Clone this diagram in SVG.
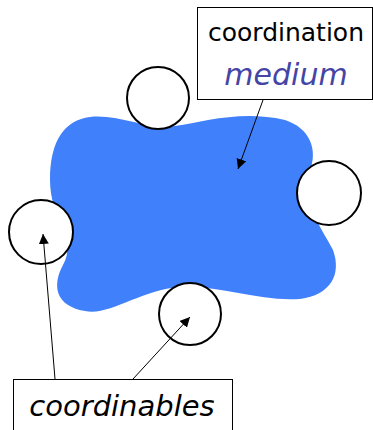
<svg xmlns="http://www.w3.org/2000/svg" width="373" height="430" viewBox="0 0 373 430">
<style>
.c{fill:#fff;stroke:#000;stroke-width:2}
.b{fill:#fff;stroke:#000;stroke-width:1}
.l{stroke:#000;stroke-width:1;fill:none}
.t{font-family:"DejaVu Sans","Noto Sans",sans-serif;fill:#000}
</style>
<defs>
<marker id="ah" viewBox="0 0 10 10" refX="10" refY="5" markerWidth="10" markerHeight="10" markerUnits="userSpaceOnUse" orient="auto">
<path d="M0,0 L10,5 L0,10 z" fill="#000"/>
</marker>
</defs>
<g id="medium-blob">
<path d="M90,117 C120,114 145,130 175,126 C205,122 240,110 285,120 C310,128 318,150 310,170 C300,200 320,225 333,250 C342,275 330,295 300,299 C260,302 220,285 180,287 C140,290 110,316 85,311 C55,306 52,285 63,265 C78,240 50,220 50,180 C50,140 65,120 90,117 Z" fill="#4080fb"/>
</g>
<g id="agent-top"><circle class="c" cx="158" cy="98" r="31"/></g>
<g id="agent-right"><circle class="c" cx="329" cy="193" r="32"/></g>
<g id="agent-left"><circle class="c" cx="41" cy="232" r="32"/></g>
<g id="agent-bottom"><circle class="c" cx="190" cy="314" r="31"/></g>
<g id="label-medium">
<rect class="b" x="197.5" y="7.5" width="175" height="92"/>
<text class="t" x="286" y="41" font-size="25" text-anchor="middle">coordination</text>
<text class="t" x="286" y="85" font-size="30" font-style="italic" text-anchor="middle" style="fill:#4545a5">medium</text>
</g>
<g id="label-coordinables">
<rect class="b" x="13.5" y="379.5" width="219" height="60"/>
<text class="t" x="122" y="416" font-size="29" font-style="italic" text-anchor="middle">coordinables</text>
</g>
<g id="connectors">
<line class="l" x1="263" y1="100" x2="238" y2="169" marker-end="url(#ah)"/>
<line class="l" x1="55" y1="379" x2="43" y2="234" marker-end="url(#ah)"/>
<line class="l" x1="133" y1="379" x2="190" y2="317" marker-end="url(#ah)"/>
</g>
</svg>
